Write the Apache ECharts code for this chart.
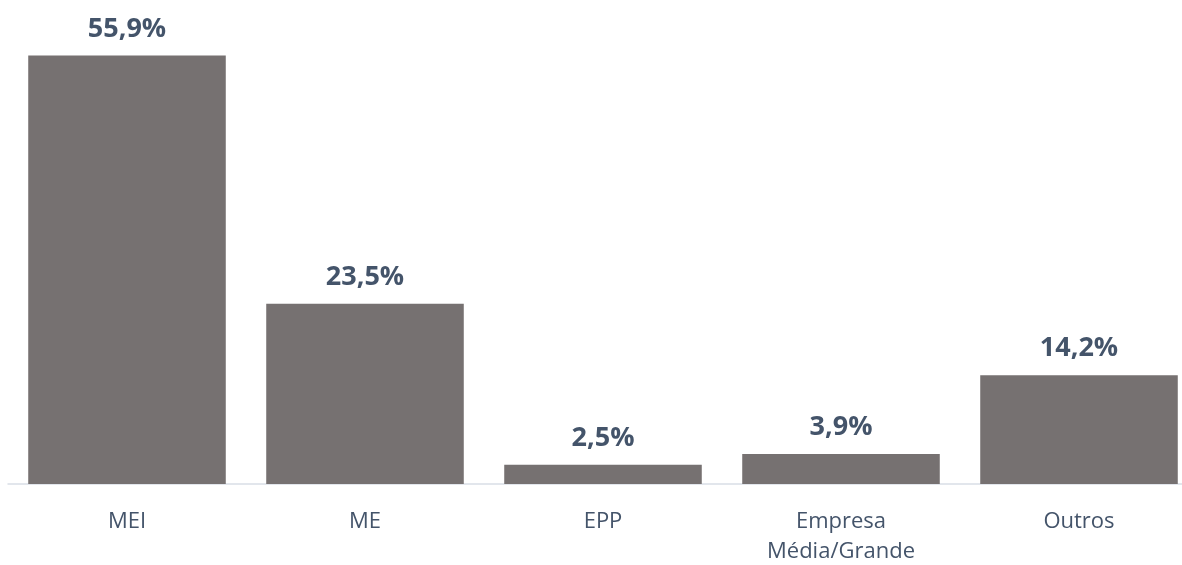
<!DOCTYPE html>
<html>
<head>
<meta charset="utf-8">
<script src="https://cdn.jsdelivr.net/npm/echarts@6/dist/echarts.min.js"></script>
<style>
  html, body { margin: 0; padding: 0; background: #fff; }
  #main { width: 1182px; height: 565px; }
</style>
</head>
<body>
<div id="main"></div>
<script>
var categorias = ['MEI', 'ME', 'EPP', 'Empresa\nMédia/Grande', 'Outros']
var valores = [55.9, 23.5, 2.5, 3.9, 14.2]

var chart = echarts.init(document.getElementById('main'))

var option = {
  animation: false,
  grid: {
    left: 8,
    width: 1190,
    top: 24,
    bottom: 81,
    containLabel: false,
    outerBoundsMode: 'none'
  },
  xAxis: {
    type: 'category',
    data: categorias,
    axisLine: { lineStyle: { color: '#d9dee6', width: 1.5 } },
    axisTick: { show: false },
    axisLabel: {
      color: '#44546a',
      fontSize: 22,
      fontFamily: 'Open Sans',
      margin: 23,
      lineHeight: 30
    }
  },
  yAxis: {
    type: 'value',
    min: 0,
    max: 60,
    show: false
  },
  series: [{
    type: 'bar',
    data: valores,
    barWidth: '83%',
    itemStyle: { color: '#767171' },
    label: {
      show: true,
      position: 'top',
      distance: 13,
      color: '#44546a',
      fontSize: 27,
      fontWeight: 'bold',
      fontFamily: 'Open Sans',
      formatter: function (p) {
        return p.value.toFixed(1).replace('.', ',') + '%'
      }
    }
  }]
}

chart.setOption(option)
</script>
</body>
</html>
